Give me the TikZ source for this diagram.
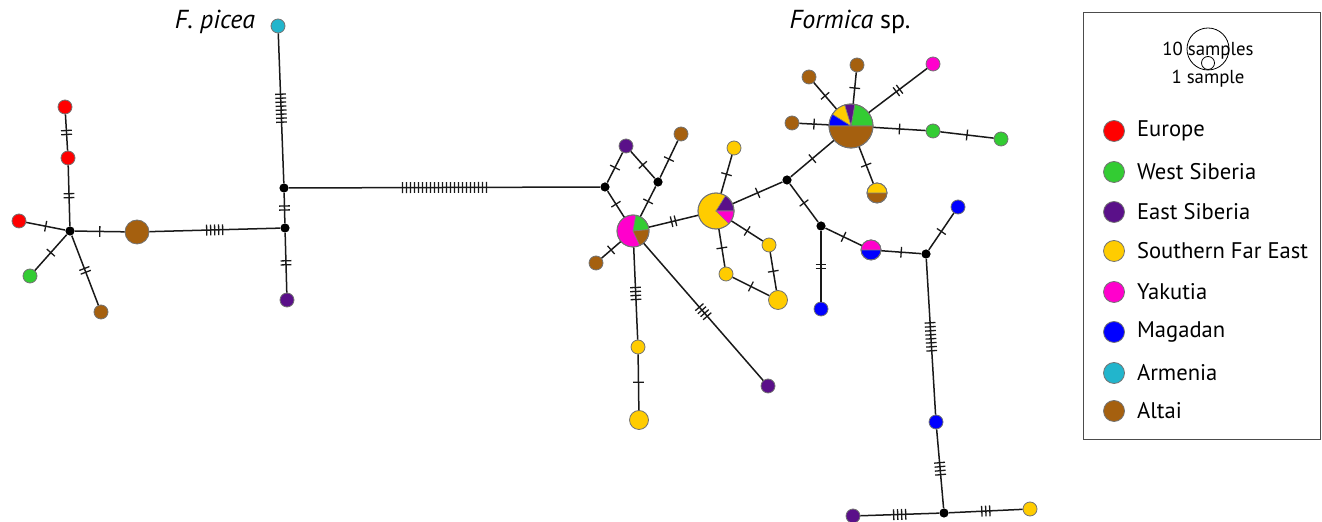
\documentclass[tikz,border=0pt]{standalone}
\usepackage{fontspec}
\setmainfont{PT Sans}
\usetikzlibrary{decorations.markings}

\definecolor{cEurope}{HTML}{FF0000}
\definecolor{cWSib}{HTML}{33CC33}
\definecolor{cESib}{HTML}{5A1089}
\definecolor{cSFE}{HTML}{FFCC00}
\definecolor{cYak}{HTML}{FF00CC}
\definecolor{cMag}{HTML}{0000FF}
\definecolor{cArm}{HTML}{22B5CC}
\definecolor{cAlt}{HTML}{A5600F}

\tikzset{
  hap/.style={circle, draw=black!55, line width=0.4pt, inner sep=0pt, minimum size=7pt},
  hub/.style={circle, fill=black, inner sep=0pt, minimum size=4.6pt},
  link/.style={line width=0.75pt, draw=black!90},
  mut/.style={postaction={decorate, decoration={markings,
      mark=at position 0.5 with {\foreach \k in {1,...,#1}{\draw[line width=0.65pt, black!90] ({(\k-(#1+1)/2)*2pt},-2.7pt) -- ++(0,5.4pt);}}}}},
  slice/.style={draw=black!50, line width=0.3pt},
  rim/.style={draw=black!55, line width=0.4pt},
  legtext/.style={anchor=west, font=\fontsize{11.3}{13}\selectfont},
  sizetext/.style={font=\fontsize{9.4}{11}\selectfont},
  title/.style={font=\fontsize{13}{15}\selectfont},
}

% a filled sector: centre, start angle, end angle, radius, colour
\newcommand{\pieslice}[5]{\filldraw[slice, fill=#5] (#1) -- ++(#2:#4) arc[start angle=#2, end angle=#3, radius=#4] -- cycle;}

\begin{document}
\begin{tikzpicture}[x=0.5pt, y=0.5pt]
\useasboundingbox (0,0) rectangle (1322,-522);

% ---------- haplotypes: F. picea side ----------
\node[hub] (L0) at (70,-231) {};
\node[hap, fill=cEurope] (eu1) at (65,-107) {};
\node[hap, fill=cEurope] (eu2) at (68,-158) {};
\node[hap, fill=cEurope] (eu3) at (19,-221) {};
\node[hap, fill=cWSib] (ws1) at (30,-276) {};
\node[hap, fill=cAlt] (al1) at (101,-312) {};
\node[hap, fill=cAlt, minimum size=12pt] (al2) at (137,-232) {};
\node[hub] (H1) at (285,-228) {};
\node[hub] (H2) at (284,-188) {};
\node[hap, fill=cESib] (es1) at (287,-300) {};
\node[hap, fill=cArm] (ar1) at (278,-26) {};

% ---------- haplotypes: Formica sp. side ----------
\node[hub] (H3) at (605,-187) {};
\node[hub] (H4) at (658,-182) {};
\node[hap, fill=cESib] (es2) at (626,-146) {};
\node[hap, fill=cAlt] (al3) at (681,-134) {};
\node[hap, fill=cAlt] (al4) at (596,-263) {};
\node[hap, fill=cYak, minimum size=16pt] (P) at (633,-231) {};
\pieslice{P.center}{5}{80}{8pt}{cWSib}
\pieslice{P.center}{-65}{5}{8pt}{cAlt}
\draw[rim] (P.center) circle[radius=8pt];
\node[hap, fill=cSFE] (sf1) at (638,-347) {};
\node[hap, fill=cSFE, minimum size=9.5pt] (sf2) at (639,-420) {};
\node[hap, fill=cESib] (es3) at (768,-386) {};

\node[hap, fill=cSFE, minimum size=18pt] (Y) at (716,-211) {};
\pieslice{Y.center}{0}{58}{9pt}{cESib}
\pieslice{Y.center}{-45}{0}{9pt}{cYak}
\draw[rim] (Y.center) circle[radius=9pt];
\node[hap, fill=cSFE] (sf3) at (734,-148) {};
\node[hap, fill=cSFE] (sf4) at (769,-245) {};
\node[hap, fill=cSFE] (sf5) at (726,-274) {};
\node[hap, fill=cSFE, minimum size=9.5pt] (sf6) at (778,-300) {};

\node[hub] (H5) at (787,-180) {};
\node[hub] (H6) at (821,-226) {};
\node[hub] (H7) at (926,-254) {};
\node[hub] (H8) at (944,-513) {};

\node[hap, fill=cAlt, minimum size=22pt] (A) at (851,-126) {};
\pieslice{A.center}{0}{80}{11pt}{cWSib}
\pieslice{A.center}{80}{107}{11pt}{cESib}
\pieslice{A.center}{107}{148}{11pt}{cSFE}
\pieslice{A.center}{148}{180}{11pt}{cMag}
\pieslice{A.center}{180}{360}{11pt}{cAlt}
\draw[rim] (A.center) circle[radius=11pt];
\node[hap, fill=cAlt] (al5) at (809,-77) {};
\node[hap, fill=cAlt] (al6) at (857,-65) {};
\node[hap, fill=cAlt] (al7) at (792,-123) {};
\node[hap, fill=cYak] (ya1) at (933,-64) {};
\node[hap, fill=cWSib] (ws2) at (933,-131) {};
\node[hap, fill=cWSib] (ws3) at (1001,-139) {};
\node[hap, fill=cAlt, minimum size=10pt] (D1) at (877,-193) {};
\pieslice{D1.center}{0}{180}{5pt}{cSFE}
\draw[rim] (D1.center) circle[radius=5pt];

\node[hap, fill=cMag] (mg1) at (821,-309) {};
\node[hap, fill=cMag, minimum size=10pt] (D2) at (871,-250) {};
\pieslice{D2.center}{0}{180}{5pt}{cYak}
\draw[rim] (D2.center) circle[radius=5pt];
\node[hap, fill=cMag] (mg2) at (958,-207) {};
\node[hap, fill=cMag] (mg3) at (936,-422) {};
\node[hap, fill=cESib] (es4) at (853,-516) {};
\node[hap, fill=cSFE] (sf7) at (1030,-509) {};

% ---------- connectors with mutation ticks ----------
\draw[link, mut=2] (eu1) -- (eu2);
\draw[link, mut=2] (eu2) -- (L0);
\draw[link, mut=1] (eu3) -- (L0);
\draw[link, mut=1] (ws1) -- (L0);
\draw[link, mut=2] (al1) -- (L0);
\draw[link, mut=1] (L0) -- (al2);
\draw[link, mut=5] (al2) -- (H1);
\draw[link, mut=2] (H1) -- (H2);
\draw[link, mut=2] (H1) -- (es1);
\draw[link, mut=8] (ar1) -- (H2);
\draw[link, mut=22] (H2) -- (H3);

\draw[link, mut=1] (H3) -- (P);
\draw[link, mut=1] (H3) -- (es2);
\draw[link, mut=1] (es2) -- (H4);
\draw[link, mut=1] (H4) -- (al3);
\draw[link, mut=1] (H4) -- (P);
\draw[link, mut=1] (P) -- (al4);
\draw[link, mut=4] (P) -- (sf1);
\draw[link, mut=1] (sf1) -- (sf2);
\draw[link, mut=4] (P) -- (es3);
\draw[link, mut=2] (P) -- (Y);

\draw[link, mut=1] (Y) -- (sf3);
\draw[link, mut=1] (Y) -- (H5);
\draw[link, mut=1] (Y) -- (sf4);
\draw[link, mut=1] (Y) -- (sf5);
\draw[link, mut=1] (sf4) -- (sf6);
\draw[link, mut=1] (sf5) -- (sf6);

\draw[link, mut=1] (H5) -- (A);
\draw[link, mut=1] (H5) -- (H6);
\draw[link, mut=1] (A) -- (al5);
\draw[link, mut=1] (A) -- (al6);
\draw[link, mut=1] (A) -- (al7);
\draw[link, mut=2] (A) -- (ya1);
\draw[link, mut=1] (A) -- (ws2);
\draw[link, mut=1] (ws2) -- (ws3);
\draw[link, mut=1] (A) -- (D1);

\draw[link, mut=2] (H6) -- (mg1);
\draw[link, mut=1] (H6) -- (D2);
\draw[link, mut=1] (D2) -- (H7);
\draw[link, mut=1] (H7) -- (mg2);
\draw[link, mut=8] (H7) -- (mg3);
\draw[link, mut=4] (mg3) -- (H8);
\draw[link, mut=4] (H8) -- (es4);
\draw[link, mut=3] (H8) -- (sf7);

% ---------- titles ----------
\node[title, anchor=east] (tpicea) at (262,-22) {\itshape F. picea};
\node[title] (tformica) at (850,-22) {\textit{Formica} sp.};

% ---------- legend ----------
\draw[line width=0.5pt, black!70] (1083,-13) rectangle (1320,-440);
\node[circle, draw=black, line width=0.4pt, inner sep=0pt, minimum size=21pt] (lgbig) at (1208,-49) {};
\node[circle, draw=black, line width=0.4pt, inner sep=0pt, minimum size=6.5pt] (lgsmall) at (1208,-63) {};
\node[sizetext] (lgten) at (1208,-51) {10 samples};
\node[sizetext] (lgone) at (1208,-79) {1 sample};

\foreach \nm/\col/\yy in {Europe/cEurope/131, West Siberia/cWSib/172, East Siberia/cESib/212,
    Southern Far East/cSFE/251, Yakutia/cYak/292, Magadan/cMag/332, Armenia/cArm/373, Altai/cAlt/411}{
  \node[hap, fill=\col, minimum size=10.5pt] (lg\col) at (1114,-\yy) {};
  \node[legtext] (lt\col) at (1130,-\yy) {\nm};
}
\end{tikzpicture}
\end{document}
